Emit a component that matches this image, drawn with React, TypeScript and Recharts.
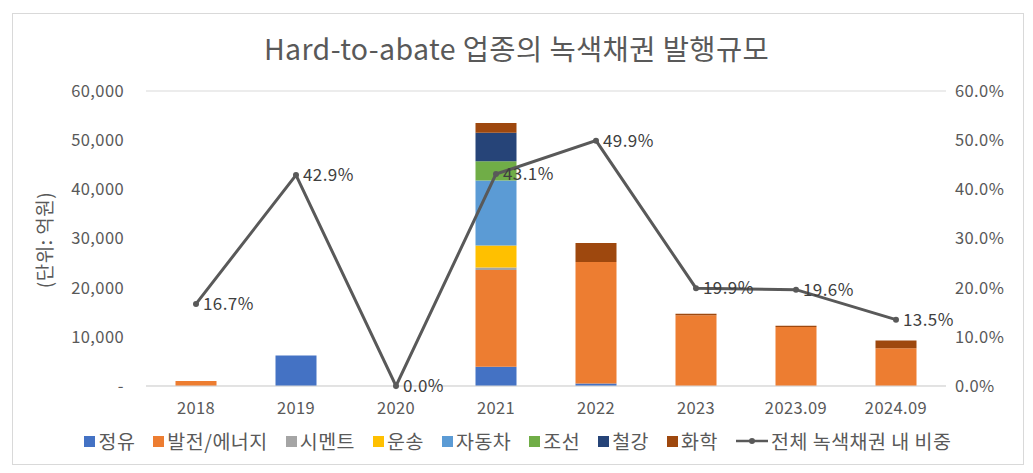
import React from "react";
import {
  ComposedChart,
  Bar,
  Line,
  XAxis,
  YAxis,
  CartesianGrid,
  LabelList,
} from "recharts";

const categories = ["2018", "2019", "2020", "2021", "2022", "2023", "2023.09", "2024.09"];

// 억원
const refining = [0, 6200, 0, 3900, 500, 0, 0, 0];
const power = [1000, 0, 0, 19700, 24700, 14400, 12000, 7700];
const cement = [0, 0, 0, 500, 0, 0, 0, 0];
const transport = [0, 0, 0, 4500, 0, 0, 0, 0];
const automobile = [0, 0, 0, 13200, 0, 0, 0, 0];
const shipbuilding = [0, 0, 0, 3900, 0, 0, 0, 0];
const steel = [0, 0, 0, 5800, 0, 0, 0, 0];
const chemical = [0, 0, 0, 2000, 3900, 270, 270, 1550];

// 전체 녹색채권 내 비중 (%)
const shareOfTotal = [16.7, 42.9, 0.0, 43.1, 49.9, 19.9, 19.6, 13.5];

const leftTicks = [0, 10000, 20000, 30000, 40000, 50000, 60000];
const rightTicks = [0, 10, 20, 30, 40, 50, 60];

const series = [
  { key: "refining", name: "정유", color: "#4472C4", values: refining },
  { key: "power", name: "발전/에너지", color: "#ED7D31", values: power },
  { key: "cement", name: "시멘트", color: "#A5A5A5", values: cement },
  { key: "transport", name: "운송", color: "#FFC000", values: transport },
  { key: "automobile", name: "자동차", color: "#5B9BD5", values: automobile },
  { key: "shipbuilding", name: "조선", color: "#70AD47", values: shipbuilding },
  { key: "steel", name: "철강", color: "#264478", values: steel },
  { key: "chemical", name: "화학", color: "#9E480E", values: chemical },
];

const data = categories.map((c, i) => {
  const row: Record<string, string | number> = { category: c, share: shareOfTotal[i] };
  series.forEach((s) => {
    row[s.key] = s.values[i];
  });
  return row;
});

const FONT = "'Noto Sans CJK KR', 'Noto Sans', sans-serif";
const TEXT = "#595959";
const tickStyle = { fill: TEXT, fontSize: 16.5, fontFamily: FONT, letterSpacing: 0.4 };

function LegendRow() {
  return (
    <div
      style={{
        position: "absolute",
        top: 428,
        left: 0,
        width: 1036,
        display: "flex",
        justifyContent: "center",
        gap: 18,
        fontFamily: FONT,
        fontSize: 19.5,
        color: TEXT,
        lineHeight: "26px",
        letterSpacing: 0.5,
      }}
    >
      {series.map((s) => (
        <div key={s.key} style={{ display: "flex", alignItems: "center" }}>
          <span style={{ width: 11, height: 11, background: s.color, marginRight: 3 }} />
          {s.name}
        </div>
      ))}
      <div style={{ display: "flex", alignItems: "center" }}>
        <svg width={32} height={10} style={{ marginRight: 3 }}>
          <line x1={0} y1={5} x2={32} y2={5} stroke="#595959" strokeWidth={2.5} />
          <circle cx={16} cy={5} r={3} fill="#595959" />
        </svg>
        전체 녹색채권 내 비중
      </div>
    </div>
  );
}

export default function App() {
  return (
    <div
      style={{
        position: "absolute",
        left: 0,
        top: 0,
        width: 1033,
        height: 473,
        background: "#fff",
        fontFamily: FONT,
      }}
    >
      <div
        style={{
          position: "absolute",
          left: 12,
          top: 13,
          width: 1010,
          height: 450,
          border: "1px solid #d9d9d9",
        }}
      />
      <div
        style={{
          position: "absolute",
          top: 28,
          left: 0,
          width: 1033,
          textAlign: "center",
          fontSize: 28.5,
          color: TEXT,
          lineHeight: "40px",
          letterSpacing: 0.4,
        }}
      >
        Hard-to-abate 업종의 녹색채권 발행규모
      </div>
      <div
        style={{
          position: "absolute",
          left: 43,
          top: 240,
          transform: "translate(-50%, -50%) rotate(-90deg)",
          fontSize: 19,
          color: TEXT,
          whiteSpace: "nowrap",
          letterSpacing: 0.5,
        }}
      >
        (단위: 억원)
      </div>
      <div style={{ position: "absolute", left: 0, top: 0 }}>
        <ComposedChart
          width={1033}
          height={473}
          data={data}
          margin={{ top: 91, right: 0, left: 0, bottom: 57 }}
          barCategoryGap="29.5%"
        >
          <CartesianGrid vertical={false} stroke="#d9d9d9" />
          <XAxis
            dataKey="category"
            axisLine={{ stroke: "#d9d9d9" }}
            tickLine={false}
            tickSize={0}
            tickMargin={16}
            height={30}
            tick={tickStyle}
          />
          <YAxis
            yAxisId="left"
            width={146}
            domain={[0, 60000]}
            ticks={leftTicks}
            axisLine={false}
            tickLine={false}
            tickSize={0}
            tickMargin={22}
            tick={tickStyle}
            tickFormatter={(v: number) => (v === 0 ? "-" : v.toLocaleString("en-US"))}
          />
          <YAxis
            yAxisId="right"
            orientation="right"
            width={87}
            domain={[0, 60]}
            ticks={rightTicks}
            axisLine={false}
            tickLine={false}
            tickSize={0}
            tickMargin={9}
            tick={{ ...tickStyle, textAnchor: "start" }}
            tickFormatter={(v: number) => `${v.toFixed(1)}%`}
          />
          {series.map((s) => (
            <Bar
              key={s.key}
              yAxisId="left"
              dataKey={s.key}
              name={s.name}
              stackId="a"
              fill={s.color}
              isAnimationActive={false}
            />
          ))}
          <Line
            yAxisId="right"
            dataKey="share"
            name="전체 녹색채권 내 비중"
            stroke="#595959"
            strokeWidth={3}
            dot={{ r: 3, fill: "#595959", stroke: "#595959", strokeWidth: 0 }}
            isAnimationActive={false}
          >
            <LabelList
              dataKey="share"
              position="right"
              offset={7}
              fill="#404040"
              fontSize={17}
              fontFamily={FONT}
              letterSpacing={0.4}
              formatter={(v: number) => `${v.toFixed(1)}%`}
            />
          </Line>
        </ComposedChart>
      </div>
      <LegendRow />
    </div>
  );
}
